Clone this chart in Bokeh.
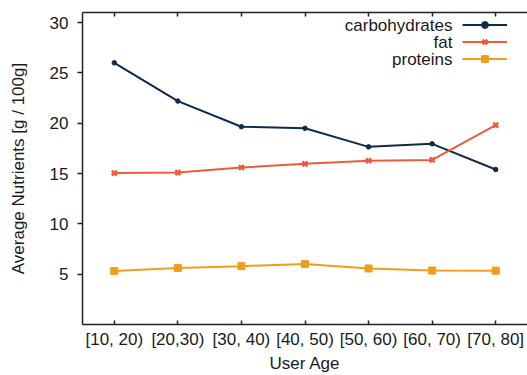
from bokeh.plotting import figure
from bokeh.models import (FactorRange, Range1d, FixedTicker, CategoricalAxis,
                          Legend, LegendItem, Label)
from bokeh.core.properties import value
from bokeh.embed import file_html
from bokeh.resources import INLINE

# ---- data ----
age_groups = ["[10, 20)", "[20,30)", "[30, 40)", "[40, 50)", "[50, 60)", "[60, 70)", "[70, 80]"]
carbohydrates = [26.0, 22.2, 19.65, 19.5, 17.65, 17.95, 15.4]
fat = [15.05, 15.1, 15.6, 15.97, 16.27, 16.35, 19.8]
proteins = [5.32, 5.62, 5.8, 6.02, 5.57, 5.36, 5.35]
y_ticks = [5, 10, 15, 20, 25, 30]

series_names = ["carbohydrates", "fat", "proteins"]
series_values = [carbohydrates, fat, proteins]
colors = ["#0f2a4a", "#ef5a3d", "#f39c1b"]
markers = ["circle", "x", "square"]
marker_sizes = [4.5, 7, 7]

FONT = "Liberation Sans"
FS = "17px"
TXT = "#1a1a1a"
AX = "#222222"

p = figure(x_range=FactorRange(*age_groups, range_padding=0),
           y_range=Range1d(0, 31),
           width=527, height=375,
           min_border_left=82, min_border_right=0,
           min_border_top=12, min_border_bottom=50,
           output_backend="svg", toolbar_location=None)
p.outline_line_color = None
p.xgrid.visible = False
p.ygrid.visible = False
p.background_fill_color = "white"
p.border_fill_color = "white"

renderers = []
for name, vals, c, m, s in zip(series_names, series_values, colors, markers, marker_sizes):
    l = p.line(age_groups, vals, line_color=c, line_width=2)
    if m == "x":
        sc = p.scatter(age_groups, vals, marker=m, size=s, line_color=c, line_width=2.5)
    else:
        sc = p.scatter(age_groups, vals, marker=m, size=s, fill_color=c, line_color=c)
    renderers.append([l, sc])

# axes
xa = p.xaxis[0]
xa.axis_label = "User Age"
xa.axis_label_text_font = FONT
xa.axis_label_text_font_size = FS
xa.axis_label_text_font_style = "normal"
xa.axis_label_text_color = TXT
xa.axis_label_standoff = 2
xa.major_label_text_font = FONT
xa.major_label_text_font_size = FS
xa.major_label_text_color = TXT
xa.major_label_standoff = 5
xa.major_tick_in = 4
xa.major_tick_out = 0
xa.axis_line_color = AX
xa.axis_line_width = 1.5
xa.major_tick_line_color = AX
xa.major_tick_line_width = 1.5

ya = p.yaxis[0]
ya.ticker = FixedTicker(ticks=y_ticks)
ya.axis_label = "Average Nutrients [g / 100g]"
ya.axis_label_text_font = FONT
ya.axis_label_text_font_size = FS
ya.axis_label_text_font_style = "normal"
ya.axis_label_text_color = TXT
ya.axis_label_standoff = 19
ya.major_label_text_font = FONT
ya.major_label_text_font_size = FS
ya.major_label_text_color = TXT
ya.major_label_standoff = 9
ya.major_tick_in = 0
ya.major_tick_out = 5
ya.minor_tick_line_color = None
ya.axis_line_color = AX
ya.axis_line_width = 1.5
ya.major_tick_line_color = AX
ya.major_tick_line_width = 1.5

# mirrored ticks along the top edge (no labels drawn)
top = CategoricalAxis(major_label_text_font_size="1px", major_label_text_color=None,
                      major_label_standoff=0,
                      major_tick_in=4, major_tick_out=0,
                      axis_line_color=AX, axis_line_width=1.5,
                      major_tick_line_color=AX, major_tick_line_width=1.5)
p.add_layout(top, "above")

# legend: key samples to the right of right-aligned texts
items = [LegendItem(label=value(""), renderers=r) for r in renderers]
legend = Legend(items=items, location=(380, 257), orientation="vertical",
                padding=0, margin=0, spacing=0,
                glyph_width=45, glyph_height=17,
                label_width=0, label_height=17, label_standoff=0,
                label_text_color=None, label_text_font_size="1px",
                border_line_color=None, background_fill_alpha=0)
p.add_layout(legend, "center")

for i, name in enumerate(series_names):
    p.add_layout(Label(x=370, y=299 - 17 * i, x_units="screen", y_units="screen",
                       text=name, text_align="right", text_baseline="middle",
                       text_font=FONT, text_font_size=FS, text_color=TXT))

open("out.html", "w").write(file_html(p, INLINE))
